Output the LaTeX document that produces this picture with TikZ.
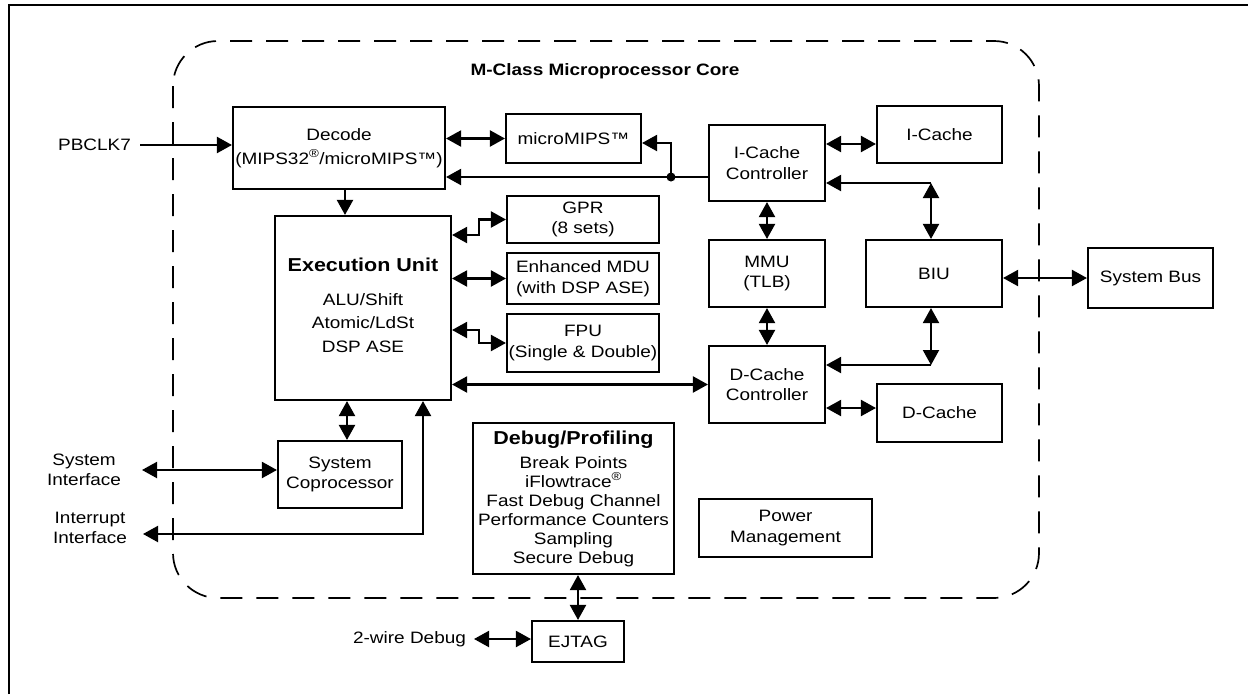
\documentclass[tikz,border=0pt]{standalone}
\usepackage{fontspec}
\setmainfont[FakeStretch=1.15]{Liberation Sans}
\usetikzlibrary{arrows.meta,positioning}

\begin{document}
\begin{tikzpicture}
    [x=1pt, y=-1pt,
    line width=2.1pt,
    >={Triangle[length=15pt,width=16pt]},
    every node/.style={font=\fontsize{16.5}{20.5}\selectfont, align=center},
    block/.style={draw, line width=2.1pt, inner sep=0pt},
    heading/.style={font=\fontsize{18.7}{22}\selectfont\bfseries, inner sep=0pt},
    ]
    \useasboundingbox (0,0) rectangle (1248,694);
    \draw[line width=2.2pt] (9,694) -- (9,5) -- (1248,5);
    % core outline
    \draw[line width=1.7pt, dash pattern=on 22pt off 14pt, rounded corners=45pt]
      (173,41) rectangle (1039,598);
    \node[font=\fontsize{16.5}{20}\selectfont\bfseries] (title) at (605,71) {M-Class Microprocessor Core};

    \node[block, minimum width=212pt, minimum height=82pt] (decode) at (339,148)
      {Decode\\[3pt](MIPS32\textsuperscript{®}/microMIPS™)};
    \node[block, minimum width=135pt, minimum height=49pt] (micro) at (573.5,138.5) {microMIPS™};
    \node[block, minimum width=116pt, minimum height=76pt] (icc) at (767,163) {I-Cache\\Controller};
    \node[block, minimum width=125pt, minimum height=57pt] (icache) at (939.5,134.5) {I-Cache};
    \node[block, minimum width=176pt, minimum height=184pt] (eu) at (363,308) {};
    \node[heading, anchor=north] (euname) at (363,257) {Execution Unit};
    \node[anchor=north, inner sep=0pt, font=\fontsize{16.5}{23.5}\selectfont] (eufeat) at (363,292)
      {ALU/Shift\\Atomic/LdSt\\DSP ASE};
    \node[block, minimum width=152pt, minimum height=47pt] (gpr) at (583,219.5) {GPR\\(8 sets)};
    \node[block, minimum width=152pt, minimum height=51pt] (mdu) at (583,278.5) {Enhanced MDU\\(with DSP ASE)};
    \node[block, minimum width=152pt, minimum height=58pt] (fpu) at (583,343) {FPU\\(Single \& Double)};
    \node[block, minimum width=116pt, minimum height=67pt] (mmu) at (767,273.5) {MMU\\(TLB)};
    \node[block, minimum width=136pt, minimum height=67pt] (biu) at (934,273.5) {BIU};
    \node[block, minimum width=125pt, minimum height=60pt] (sysbus) at (1150.5,278) {System Bus};
    \node[block, minimum width=116pt, minimum height=77pt] (dcc) at (767,384.5) {D-Cache\\Controller};
    \node[block, minimum width=125pt, minimum height=58pt] (dcache) at (939.5,413) {D-Cache};
    \node[block, minimum width=124pt, minimum height=67pt] (syscop) at (340,474.5) {System\\Coprocessor};
    \node[block, minimum width=201pt, minimum height=151pt, font=\fontsize{16.5}{19}\selectfont] (debug) at (573.5,498.5)
      {{\fontsize{18.7}{22}\selectfont\bfseries Debug/Profiling}\\[5pt]Break Points\\iFlowtrace\textsuperscript{®}\\
       Fast Debug Channel\\Performance Counters\\Sampling\\Secure Debug};
    \node[block, minimum width=173pt, minimum height=58pt] (power) at (785.5,528) {Power\\Management};
    \node[block, minimum width=92pt, minimum height=41pt] (ejtag) at (578,641.5) {EJTAG};

    % outside signals
    \coordinate (clkin) at (140,145);
    \node[left=8pt of clkin, inner sep=0pt] (pbclk) {PBCLK7};
    \coordinate (sysifend) at (142,470);
    \node[left=20pt of sysifend, inner sep=0pt] (sysif) {System\\Interface};
    \coordinate (intend) at (143,534);
    \coordinate (intcorner) at (423,534);
    \node[anchor=east, inner sep=0pt] (intif) at (128,528) {Interrupt\\Interface};
    \coordinate (twowireend) at (474,639);
    \node[left=7pt of twowireend, inner sep=0pt] (twowire) {2-wire Debug};

    \draw[->] (clkin) -- (decode.west |- clkin);
    \draw[<->] (decode.east |- micro.west) -- (micro.west);
    \coordinate (jn) at (671,177);
    \coordinate (jnup) at (671,143);
    \draw[->] (icc.west |- jn) -- (decode.east |- jn);
    \fill (jn) circle (4.5pt);
    \draw[->] (jn) -- (jnup) -- (micro.east |- jnup);
    \draw[->] ([xshift=6pt]decode.south) -- ([xshift=6pt]decode.south |- eu.north);
    \coordinate (gstep) at (479,235);
    \draw[<->] (eu.east |- gstep) -- (gstep) |- (gpr.west);
    \draw[<->] (eu.east |- mdu.west) -- (mdu.west);
    \coordinate (fstep) at (479,330);
    \draw[<->] (eu.east |- fstep) -- (fstep) |- (fpu.west);
    \draw[<->] (eu.east |- dcc.west) -- (dcc.west);
    \draw[<->] (icc.south) -- (mmu.north);
    \draw[<->] (mmu.south) -- (dcc.north);
    \coordinate (icline) at (0,144);
    \draw[<->] (icc.east |- icline) -- (icache.west |- icline);
    \coordinate (biuup) at (931,183);
    \draw[->] (biuup) -- (icc.east |- biuup);
    \draw[<->] (biuup) -- (biu.north -| biuup);
    \coordinate (biudown) at (931,365);
    \draw[<->] (biu.south -| biudown) -- (biudown);
    \draw[->] (biudown) -- (dcc.east |- biudown);
    \draw[<->] (biu.east |- sysbus.west) -- (sysbus.west);
    \coordinate (dcline) at (0,408);
    \draw[<->] (dcc.east |- dcline) -- (dcache.west |- dcline);
    \draw[<->] ([xshift=7pt]syscop.north) -- ([xshift=7pt]syscop.north |- eu.south);
    \draw[<->] (sysifend) -- (syscop.west |- sysifend);
    \draw[<->] (intend) -- (intcorner) -- (intcorner |- eu.south);
    \draw[<->] (debug.south -| ejtag.north) -- (ejtag.north);
    \draw[<->] (twowireend) -- (ejtag.west |- twowireend);
  \end{tikzpicture}
\end{document}
